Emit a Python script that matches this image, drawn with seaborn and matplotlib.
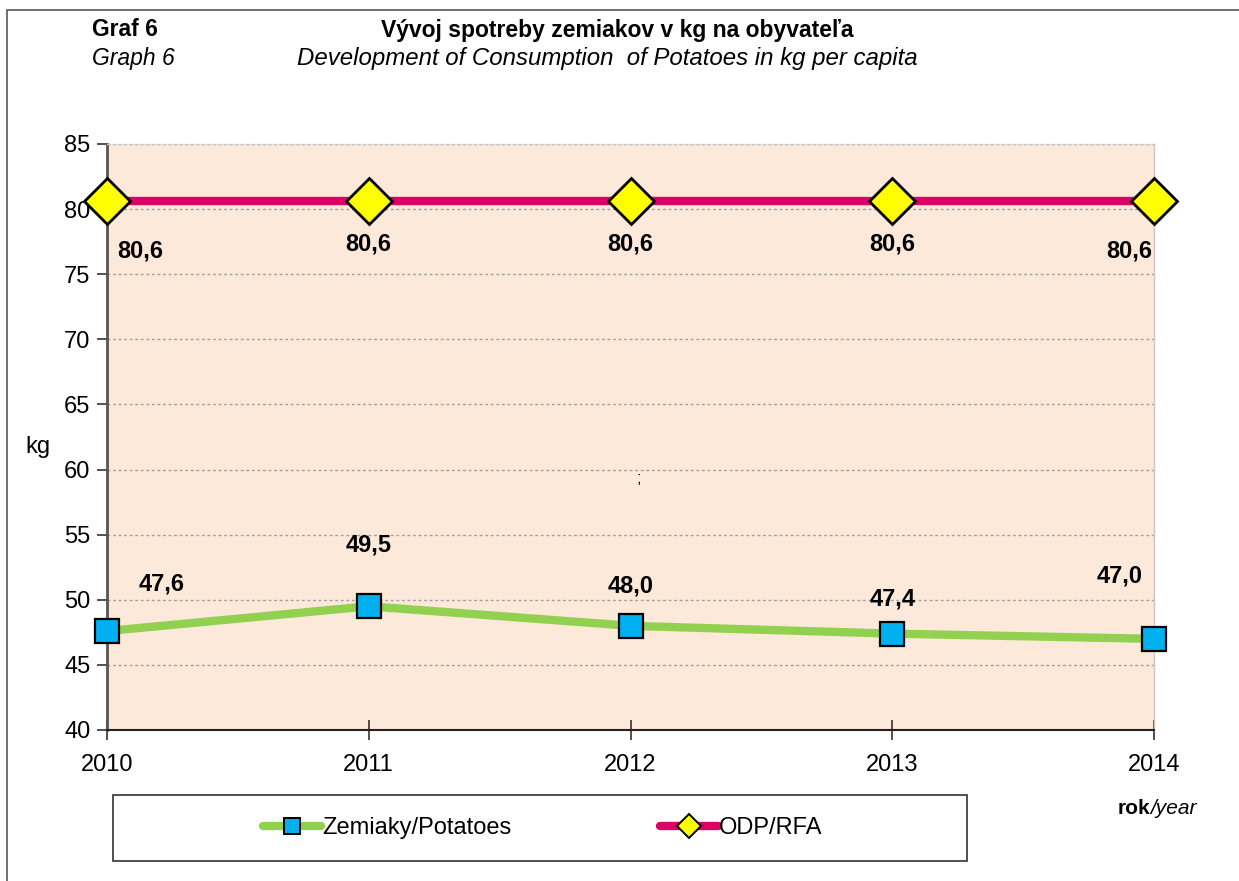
import matplotlib
matplotlib.use("Agg")
import matplotlib.pyplot as plt
import seaborn as sns
import pandas as pd
from matplotlib.patches import Rectangle
from matplotlib.lines import Line2D

# ---- data ----
years = [2010, 2011, 2012, 2013, 2014]
potatoes = [47.6, 49.5, 48.0, 47.4, 47.0]
rda = [80.6, 80.6, 80.6, 80.6, 80.6]
potato_labels = ["47,6", "49,5", "48,0", "47,4", "47,0"]
rda_labels = ["80,6", "80,6", "80,6", "80,6", "80,6"]
series_names = ["Zemiaky/Potatoes", "ODP/RFA"]
yticks = [40, 45, 50, 55, 60, 65, 70, 75, 80, 85]

# ---- style ----
sns.set_theme(style="white")
plt.rcParams['font.family'] = ['Liberation Sans', 'DejaVu Sans']
plt.rcParams['text.color'] = 'black'
plt.rcParams['xtick.color'] = 'black'
plt.rcParams['ytick.color'] = 'black'
plt.rcParams['xtick.labelcolor'] = 'black'
plt.rcParams['ytick.labelcolor'] = 'black'
FS = 17

GREEN = "#92D050"
BLUE = "#00B0F0"
RED = "#DC0064"
YELLOW = "#FFFF00"
BG = "#FDE9DA"

fig = plt.figure(figsize=(12.39, 8.81), dpi=100)
W, H = 1239, 881
ax = fig.add_axes([107 / W, 1 - 730 / H, (1154 - 107) / W, (730 - 144) / H])
ax.set_facecolor(BG)

df = pd.DataFrame({"year": years, "Zemiaky": potatoes, "ODP": rda})

sns.lineplot(data=df, x="year", y="Zemiaky", ax=ax, color=GREEN, linewidth=6,
             marker="s", markersize=17, markerfacecolor=BLUE,
             markeredgecolor="black", markeredgewidth=1.6, clip_on=False, zorder=5)
sns.lineplot(data=df, x="year", y="ODP", ax=ax, color=RED, linewidth=6,
             marker="D", markersize=23, markerfacecolor=YELLOW,
             markeredgecolor="black", markeredgewidth=2, clip_on=False, zorder=5)

ax.set_xlim(2010, 2014)
ax.set_ylim(40, 85)
ax.set_xticks(years)
ax.set_xticklabels([str(y) for y in years], fontsize=FS)
ax.set_yticks(yticks)
ax.set_yticklabels([str(v) for v in yticks], fontsize=FS)
ax.set_xlabel("")
ax.set_ylabel("")

ax.grid(axis="y", color="#a0a0a0", linestyle=(0, (2, 2)), linewidth=1)
ax.set_axisbelow(True)
ax.tick_params(axis="y", direction="out", length=7, width=1.2, color="#333333", pad=5, left=True)
ax.tick_params(axis="x", direction="inout", length=14, width=1.2, color="#333333", pad=10, bottom=True)

for s in ["top", "right"]:
    ax.spines[s].set_visible(True)
    ax.spines[s].set_color("#c8c8c8")
    ax.spines[s].set_linewidth(1)
ax.spines["top"].set_linestyle((0, (2, 2)))
ax.spines["left"].set_color("#555555")
ax.spines["left"].set_linewidth(2)
ax.spines["bottom"].set_color("#222222")
ax.spines["bottom"].set_linewidth(1.5)

# data labels (offsets in points)
rda_off = [(24, -36), (0, -31), (0, -31), (0, -31), (-18, -36)]
pot_off = [(39, 34), (0, 44), (0, 29), (0, 25), (-25, 45)]
for i, (x, y) in enumerate(zip(years, rda)):
    ax.annotate(rda_labels[i], (x, y), xytext=rda_off[i], textcoords="offset points",
                ha="center", va="center", fontsize=FS, fontweight="bold", annotation_clip=False)
for i, (x, y) in enumerate(zip(years, potatoes)):
    ax.annotate(potato_labels[i], (x, y), xytext=pot_off[i], textcoords="offset points",
                ha="center", va="center", fontsize=FS, fontweight="bold", annotation_clip=False)

ax.text(2012.03, 59.3, ";", fontsize=12, ha="center", va="center")

# titles
fig.text(92 / W, 1 - 30 / H, "Graf 6", fontsize=FS - 0.5, fontweight="bold", ha="left", va="center")
fig.text(92 / W, 1 - 59 / H, "Graph 6", fontsize=FS - 0.5, fontstyle="italic", ha="left", va="center")
fig.text(617 / W, 1 - 30 / H, "Vývoj spotreby zemiakov v kg na obyvateľa", fontsize=FS - 0.5,
         fontweight="bold", ha="center", va="center")
fig.text(607 / W, 1 - 59 / H, "Development of Consumption  of Potatoes in kg per capita",
         fontsize=FS + 0.3, fontstyle="italic", ha="center", va="center")

fig.text(38 / W, 1 - 447 / H, "kg", fontsize=FS, ha="center", va="center")
fig.text(1150 / W, 1 - 808 / H, "rok", fontsize=FS - 2, fontweight="bold", ha="right", va="center")
fig.text(1150 / W, 1 - 808 / H, "/year", fontsize=FS - 2, fontstyle="italic", ha="left", va="center")

# legend box
fig.patches.append(Rectangle((113 / W, 1 - 861 / H), (967 - 113) / W, (861 - 795) / H,
                             transform=fig.transFigure, fill=True, facecolor="white",
                             edgecolor="#333333", linewidth=1.2, zorder=1))
handles = [
    Line2D([], [], color=GREEN, linewidth=6, marker="s", markersize=11,
           markerfacecolor=BLUE, markeredgecolor="black", markeredgewidth=1.4),
    Line2D([], [], color=RED, linewidth=6, marker="D", markersize=12,
           markerfacecolor=YELLOW, markeredgecolor="black", markeredgewidth=1.4),
]
leg = fig.legend(handles, series_names, loc="center",
                 bbox_to_anchor=(543 / W, 1 - 828 / H), ncol=2, fontsize=FS,
                 frameon=False, handlelength=2.45, handletextpad=0.05,
                 columnspacing=6.3)

# outer border
fig.patches.append(Rectangle((7 / W, -0.05), 1.1, 1 - 10 / H + 0.05, transform=fig.transFigure,
                             fill=False, edgecolor="#555555", linewidth=1.2))

fig.savefig("out.png", dpi=100)
